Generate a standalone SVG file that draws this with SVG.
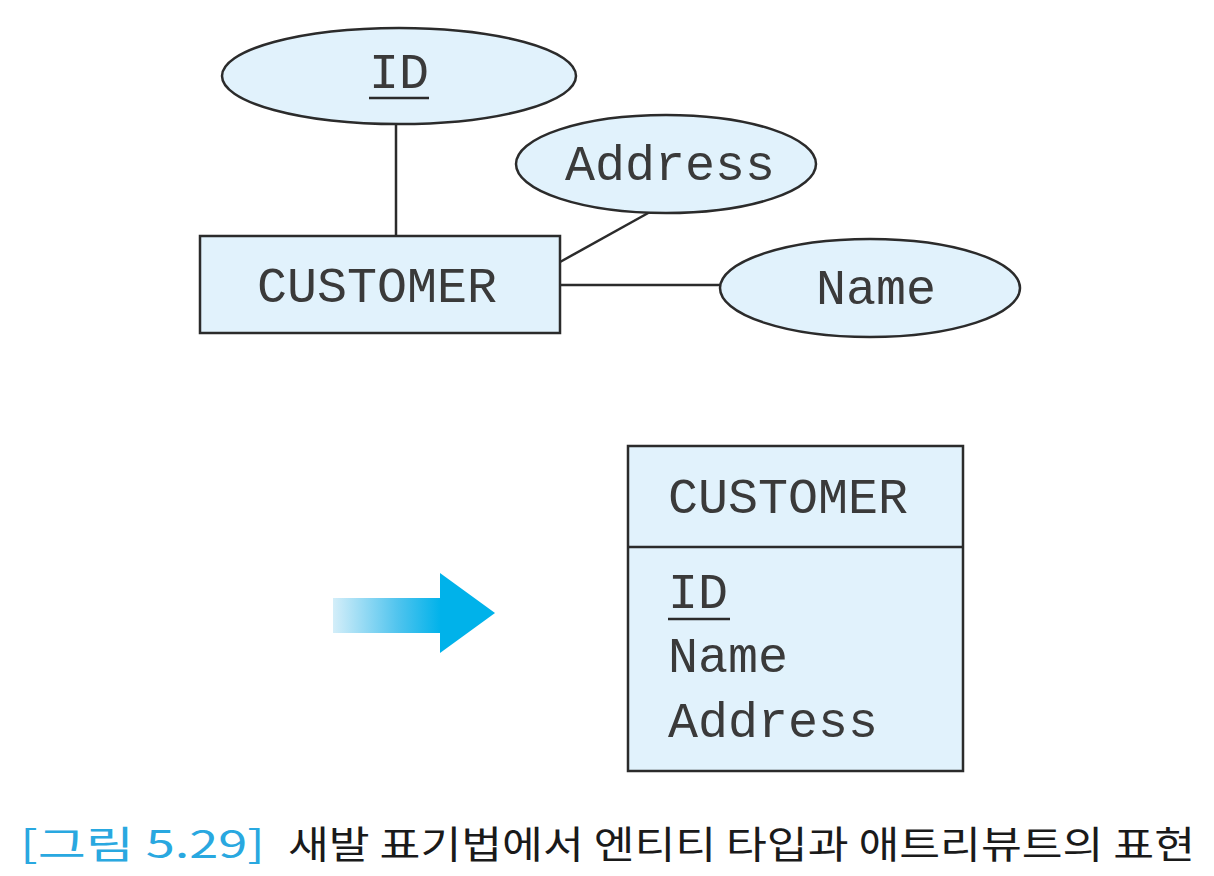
<svg xmlns="http://www.w3.org/2000/svg" width="1214" height="876" viewBox="0 0 1214 876">
<defs>
<style>
.shape{fill:#e1f2fc;stroke:#2b2b2b;stroke-width:2.5}
.conn{stroke:#2b2b2b;stroke-width:2.5;fill:none}
.t{font-family:"Liberation Mono","Courier New",monospace;font-size:50px;fill:#3a3a3a}
.cap{font-family:"Noto Sans CJK KR","Noto Sans",sans-serif;font-size:38px}
</style>
<linearGradient id="g" x1="0" y1="0" x2="1" y2="0">
<stop offset="0" stop-color="#d4eef9"/>
<stop offset="0.6" stop-color="#50c4ee"/>
<stop offset="1" stop-color="#00b2ea"/>
</linearGradient>
</defs>
<g id="connectors">
<line class="conn" x1="396" y1="124" x2="396" y2="236"/>
<line class="conn" x1="650" y1="212" x2="560" y2="262"/>
<line class="conn" x1="560" y1="285" x2="721" y2="285"/>
</g>
<g id="attr-id">
<ellipse class="shape" cx="399" cy="76" rx="177" ry="48"/>
<text class="t" x="399" y="88" text-anchor="middle">ID</text>
<line class="conn" x1="369" y1="98" x2="429" y2="98"/>
</g>
<g id="attr-address">
<ellipse class="shape" cx="666" cy="164" rx="150" ry="49"/>
<text class="t" x="670" y="180" text-anchor="middle">Address</text>
</g>
<g id="attr-name">
<ellipse class="shape" cx="870" cy="288" rx="150" ry="49"/>
<text class="t" x="876" y="304" text-anchor="middle">Name</text>
</g>
<g id="entity-customer">
<rect class="shape" x="200" y="236" width="360" height="97"/>
<text class="t" x="377" y="302" text-anchor="middle">CUSTOMER</text>
</g>
<g id="arrow">
<rect x="333" y="598" width="108" height="35" fill="url(#g)"/>
<polygon points="440,573 495,613 440,653" fill="#00b2ea"/>
</g>
<g id="entity-table">
<rect class="shape" x="628" y="446" width="335" height="325"/>
<line class="conn" x1="628" y1="547" x2="963" y2="547"/>
<text class="t" x="668" y="513">CUSTOMER</text>
<text class="t" x="668" y="608">ID</text>
<line class="conn" x1="668" y1="619" x2="730" y2="619"/>
<text class="t" x="668" y="672">Name</text>
<text class="t" x="668" y="737">Address</text>
</g>
<g id="caption">
<text class="cap" x="20" y="858" fill="#29a8e0" textLength="245" lengthAdjust="spacingAndGlyphs">[그림 5.29]</text>
<text class="cap" x="288" y="858" fill="#1a1a1a" textLength="907" lengthAdjust="spacingAndGlyphs">새발 표기법에서 엔티티 타입과 애트리뷰트의 표현</text>
</g>
</svg>
